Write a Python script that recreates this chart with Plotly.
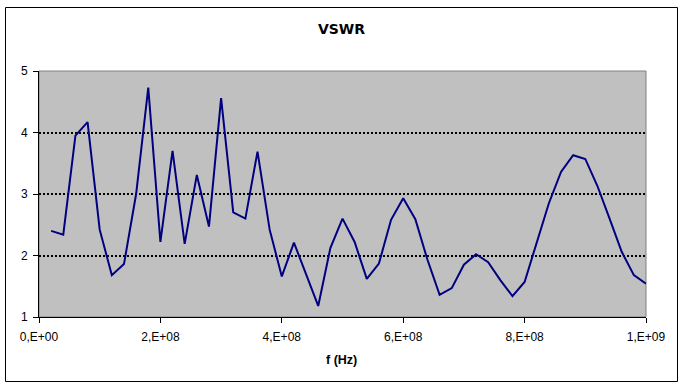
import plotly.graph_objects as go

freq = [i * 2e7 for i in range(1, 51)]
vswr = [2.40, 2.34, 3.95, 4.17, 2.42, 1.68, 1.86, 3.00, 4.73, 2.22,
        3.70, 2.19, 3.31, 2.47, 4.56, 2.70, 2.60, 3.69, 2.42, 1.66,
        2.21, 1.71, 1.18, 2.12, 2.60, 2.22, 1.62, 1.87, 2.58, 2.93,
        2.59, 1.93, 1.36, 1.47, 1.85, 2.02, 1.89, 1.60, 1.34, 1.57,
        2.22, 2.85, 3.36, 3.63, 3.57, 3.13, 2.60, 2.06, 1.68, 1.54]

x_tickvals = [0, 2e8, 4e8, 6e8, 8e8, 1e9]
x_ticktext = ["0,E+00", "2,E+08", "4,E+08", "6,E+08", "8,E+08", "1,E+09"]
y_tickvals = [1, 2, 3, 4, 5]

FONT = "Liberation Sans, Arial, sans-serif"
TFONT = "DejaVu Sans, Verdana, sans-serif"

fig = go.Figure()
fig.add_trace(go.Scatter(x=freq, y=vswr, mode="lines",
                         line=dict(color="#000080", width=2),
                         hoverinfo="x+y", showlegend=False))

L, R, T, B = 39, 646, 71, 317
W, H = 684, 388
pw, ph = R - L, B - T

def px(x):
    return (x - L) / pw

def py(y):
    return (B - y) / ph

fig.update_layout(
    width=W, height=H,
    margin=dict(l=L, r=W - R, t=T, b=H - B, pad=0),
    paper_bgcolor="white",
    plot_bgcolor="#C0C0C0",
    font=dict(family=FONT, size=12, color="black"),
    title=dict(text="<b>VSWR</b>", x=px(341.5), xref="paper", xanchor="center",
               y=1 - 29.5 / H, yref="container", yanchor="middle",
               font=dict(family=TFONT, size=14, color="black")),
    xaxis=dict(range=[0, 1e9], tickvals=x_tickvals, ticktext=x_ticktext,
               showgrid=False, zeroline=False,
               showline=True, linecolor="black", linewidth=1,
               ticks="outside", ticklen=5, tickcolor="black", tickwidth=1,
               ticklabelstandoff=4,
               tickfont=dict(family=FONT, size=12, color="black")),
    yaxis=dict(range=[1, 5], tickvals=y_tickvals,
               showgrid=True, gridcolor="black", gridwidth=2, griddash="2px,2px",
               zeroline=False,
               showline=True, linecolor="black", linewidth=1,
               ticks="outside", ticklen=5, tickcolor="black", tickwidth=1,
               ticklabelstandoff=3,
               tickfont=dict(family=FONT, size=12, color="black")),
    shapes=[
        dict(type="rect", xref="paper", yref="paper",
             x0=px(5.5), x1=px(677.5), y0=py(381.5), y1=py(7.5),
             line=dict(color="black", width=1), fillcolor="rgba(0,0,0,0)",
             layer="above"),
        dict(type="rect", xref="paper", yref="paper",
             x0=0, x1=1, y0=0, y1=1,
             line=dict(color="#808080", width=1), fillcolor="rgba(0,0,0,0)",
             layer="below"),
    ],
    annotations=[
        dict(text="<b>f (Hz)</b>", x=px(341.5), y=py(360), xref="paper", yref="paper",
             xanchor="center", yanchor="middle", showarrow=False,
             font=dict(family=FONT, size=12.5, color="black")),
    ],
)

fig.write_html("out.html", config={"displayModeBar": False},
               post_script="document.body.style.margin='0';document.body.style.overflow='hidden';")
